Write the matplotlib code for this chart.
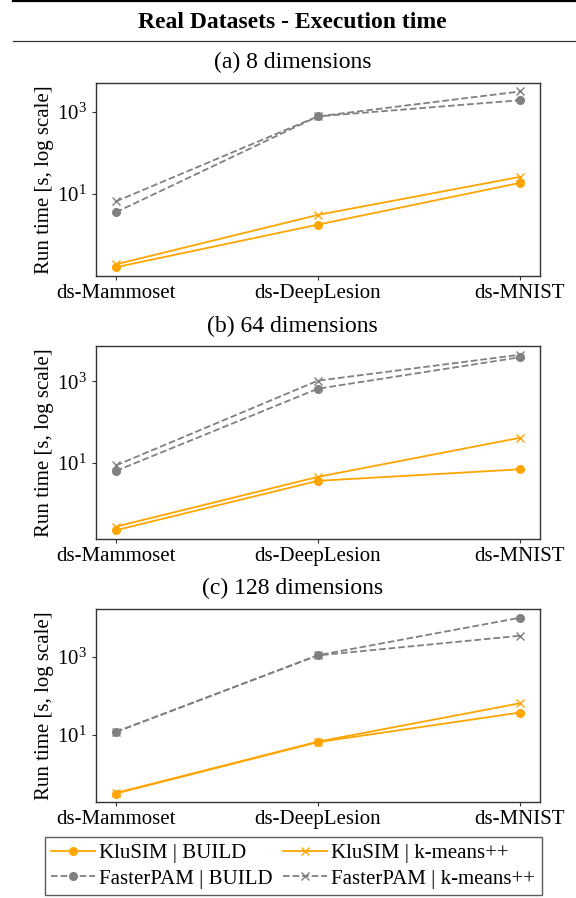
import matplotlib
matplotlib.use("Agg")
import matplotlib.pyplot as plt
from matplotlib.lines import Line2D
from matplotlib.ticker import FixedLocator, NullLocator, LogFormatterSciNotation

plt.rcParams['font.family'] = ['Liberation Serif', 'DejaVu Serif']
plt.rcParams['mathtext.fontset'] = 'custom'
plt.rcParams['mathtext.rm'] = 'Liberation Serif'
plt.rcParams['mathtext.it'] = 'Liberation Serif:italic'
plt.rcParams['mathtext.bf'] = 'Liberation Serif:bold'

datasets = ["ds-Mammoset", "ds-DeepLesion", "ds-MNIST"]
panel_titles = ["(a) 8 dimensions", "(b) 64 dimensions", "(c) 128 dimensions"]
series_names = ["KluSIM | BUILD", "KluSIM | k-means++", "FasterPAM | BUILD", "FasterPAM | k-means++"]

# Run time in seconds, per panel
klusim_build = [
    [0.166, 1.8, 18.6],
    [0.22, 3.6, 6.9],
    [0.31, 6.5, 37.6],
]
klusim_kmeans = [
    [0.195, 3.1, 26.0],
    [0.27, 4.5, 41.0],
    [0.32, 6.7, 65.0],
]
fasterpam_build = [
    [3.6, 770.0, 1900.0],
    [6.3, 660.0, 3900.0],
    [11.9, 1120.0, 10300.0],
]
fasterpam_kmeans = [
    [6.6, 770.0, 3100.0],
    [8.6, 1040.0, 4500.0],
    [11.9, 1110.0, 3550.0],
]

orange = '#FFA500'
grey = '#808080'

fig = plt.figure(figsize=(5.76, 8.98), dpi=100)

W, H = 576.0, 898.0
left_px, right_px = 95.7, 540.0
axes_px = [(82.7, 276.0), (346.0, 539.0), (609.0, 802.3)]
title_base_px = [68.3, 331.7, 594.0]
center_x = 292.8 / W

fs = 15

for i in range(3):
    top, bot = axes_px[i]
    ax = fig.add_axes([left_px / W, 1 - bot / H, (right_px - left_px) / W, (bot - top) / H])
    x = list(range(len(datasets)))
    ax.plot(x, klusim_build[i], color=orange, linestyle='-', marker='o', markersize=5.5, linewidth=1.3)
    ax.plot(x, klusim_kmeans[i], color=orange, linestyle='-', marker='x', markersize=6, linewidth=1.3)
    ax.plot(x, fasterpam_build[i], color=grey, linestyle='--', marker='o', markersize=5.5, linewidth=1.3)
    ax.plot(x, fasterpam_kmeans[i], color=grey, linestyle='--', marker='x', markersize=6, linewidth=1.3)
    ax.set_yscale('log')
    ax.yaxis.set_major_locator(FixedLocator([10.0, 1000.0]))
    ax.yaxis.set_major_formatter(LogFormatterSciNotation())
    ax.yaxis.set_minor_locator(NullLocator())
    ax.set_xticks(x)
    ax.set_xticklabels(datasets)
    ax.tick_params(labelsize=fs, width=0.8, length=3.0, color='#333333')
    ax.tick_params(axis='x', pad=2.5)
    for sp in ax.spines.values():
        sp.set_color('#333333')
        sp.set_linewidth(1.0)
    ax.set_ylabel("Run time [s, log scale]", fontsize=fs)
    ax.yaxis.set_label_coords(-0.093, 0.5)
    fig.text(center_x, 1 - title_base_px[i] / H, panel_titles[i],
             ha='center', va='baseline', fontsize=17)

# Header
fig.text(center_x, 1 - 28.3 / H, "Real Datasets - Execution time", ha='center', va='baseline',
         fontsize=17, fontweight='bold')
fig.add_artist(Line2D([12.6 / W, 1.0], [1 - 1.0 / H, 1 - 1.0 / H], color='black', linewidth=1.6))
fig.add_artist(Line2D([12.6 / W, 1.0], [1 - 41.0 / H, 1 - 41.0 / H], color='#333333', linewidth=0.9))

handles = [
    Line2D([], [], color=orange, linestyle='-', marker='o', markersize=5.5, linewidth=1.3),
    Line2D([], [], color=grey, linestyle='--', marker='o', markersize=5.5, linewidth=1.3),
    Line2D([], [], color=orange, linestyle='-', marker='x', markersize=6, linewidth=1.3),
    Line2D([], [], color=grey, linestyle='--', marker='x', markersize=6, linewidth=1.3),
]
labels = [series_names[0], series_names[2], series_names[1], series_names[3]]
leg = fig.legend(handles, labels, ncol=2, loc='upper center',
                 bbox_to_anchor=(293.4 / W, 1 - 837.0 / H), fontsize=fs,
                 frameon=True, fancybox=False, shadow=False, borderaxespad=0.0,
                 handlelength=2.1, columnspacing=0.5, handletextpad=0.2,
                 labelspacing=0.3, borderpad=0.3)
leg.get_frame().set_edgecolor('#333333')
leg.get_frame().set_linewidth(1.0)

fig.savefig("out.png", dpi=100)
